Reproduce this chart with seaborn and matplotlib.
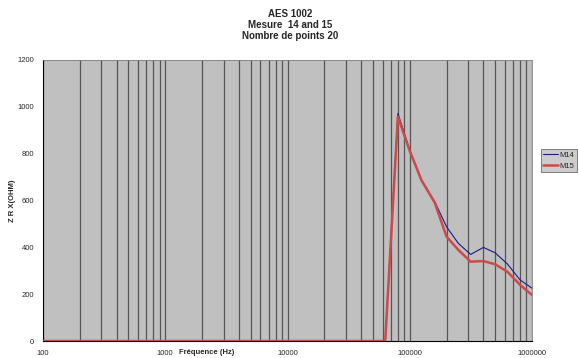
import matplotlib
matplotlib.use("Agg")
import matplotlib.pyplot as plt
import seaborn as sns
import pandas as pd
import numpy as np
from matplotlib.ticker import LogLocator, NullFormatter
from matplotlib.lines import Line2D

freq = [100, 1000, 10000, 20000, 31500, 40000, 50000, 63000,
        80000, 100000, 125000, 160000, 200000, 250000, 315000,
        400000, 500000, 630000, 800000, 1000000]
m14 = [0, 0, 0, 0, 0, 0, 0, 0,
       970, 814, 686, 594, 487, 416, 369, 399, 376, 328, 260, 225]
m15 = [0, 0, 0, 0, 0, 0, 0, 0,
       956, 810, 684, 590, 445, 388, 338, 341, 327, 295, 239, 196]
series_names = ["M14", "M15"]
yticks = [0, 200, 400, 600, 800, 1000, 1200]
xtick_vals = [100, 1000, 10000, 100000, 1000000]

df = pd.DataFrame({
    "freq": freq * 2,
    "val": m14 + m15,
    "serie": [series_names[0]] * len(freq) + [series_names[1]] * len(freq),
})

sns.set_theme(style="white")
plt.rcParams['font.family'] = ['Liberation Sans', 'DejaVu Sans']

fig = plt.figure(figsize=(5.79, 3.58), dpi=100)
ax = fig.add_axes([43 / 579, 1 - 341 / 358, (532 - 43) / 579, (341 - 59.5) / 358])
ax.set_facecolor("#C0C0C0")

palette = {"M14": "#1a1a8c", "M15": "#CC4a4a"}
sizes = {"M14": 0.8, "M15": 1.8}
sns.lineplot(data=df, x="freq", y="val", hue="serie", size="serie",
             palette=palette, sizes=sizes, ax=ax, legend=False,
             estimator=None, sort=False, zorder=3)
ax.set_xscale("log")
ax.set_xlim(100, 1000000)
ax.set_ylim(0, 1200)

ax.xaxis.set_major_locator(LogLocator(base=10, numticks=10))
ax.xaxis.set_minor_locator(LogLocator(base=10, subs=np.arange(2, 10), numticks=50))
ax.xaxis.set_minor_formatter(NullFormatter())
ax.grid(True, axis="x", which="both", color="#555555", linewidth=0.9)
ax.grid(False, axis="y")
ax.set_axisbelow(True)
ax.set_xticks(xtick_vals)
ax.set_xticklabels([str(v) for v in xtick_vals])
ax.set_yticks(yticks)
ax.set_yticklabels([str(v) for v in yticks])
ax.tick_params(axis="both", which="both", labelsize=5.5, direction="out",
               length=2.5, width=0.6, color="black", pad=4)
ax.tick_params(axis="x", which="minor", length=2)

for s in ["left", "bottom"]:
    ax.spines[s].set_color("black")
    ax.spines[s].set_linewidth(0.8)
for s in ["top", "right"]:
    ax.spines[s].set_color("#808080")
    ax.spines[s].set_linewidth(0.6)

ax.set_xlabel("")
ax.set_ylabel("Z R X(OHM)", fontsize=5.5, fontweight="bold")
ax.yaxis.set_label_coords(-0.055, 0.5)

fig.text(207 / 579, 1 - 353 / 358, "Fréquence (Hz)", fontsize=5.5,
         fontweight="bold", ha="center", va="center")

fig.text(290 / 579, 1 - 14 / 358, "AES 1002", fontsize=7, fontweight="bold",
         ha="center", va="center")
fig.text(290 / 579, 1 - 25 / 358, "Mesure  14 and 15", fontsize=7,
         fontweight="bold", ha="center", va="center")
fig.text(290 / 579, 1 - 36 / 358, "Nombre de points 20", fontsize=7,
         fontweight="bold", ha="center", va="center")

handles = [Line2D([], [], color=palette[n], linewidth=sizes[n]) for n in series_names]
leg = fig.legend(handles, series_names, loc="upper left",
                 bbox_to_anchor=(540.5 / 579, 1 - 149 / 358),
                 frameon=True, fontsize=5.5, handlelength=1.9,
                 handletextpad=0.25, borderpad=0.35, labelspacing=0.45,
                 borderaxespad=0, fancybox=False)
leg.get_frame().set_facecolor("#C0C0C0")
leg.get_frame().set_edgecolor("#4d4d4d")
leg.get_frame().set_linewidth(0.6)

fig.savefig("out.png", dpi=100)
